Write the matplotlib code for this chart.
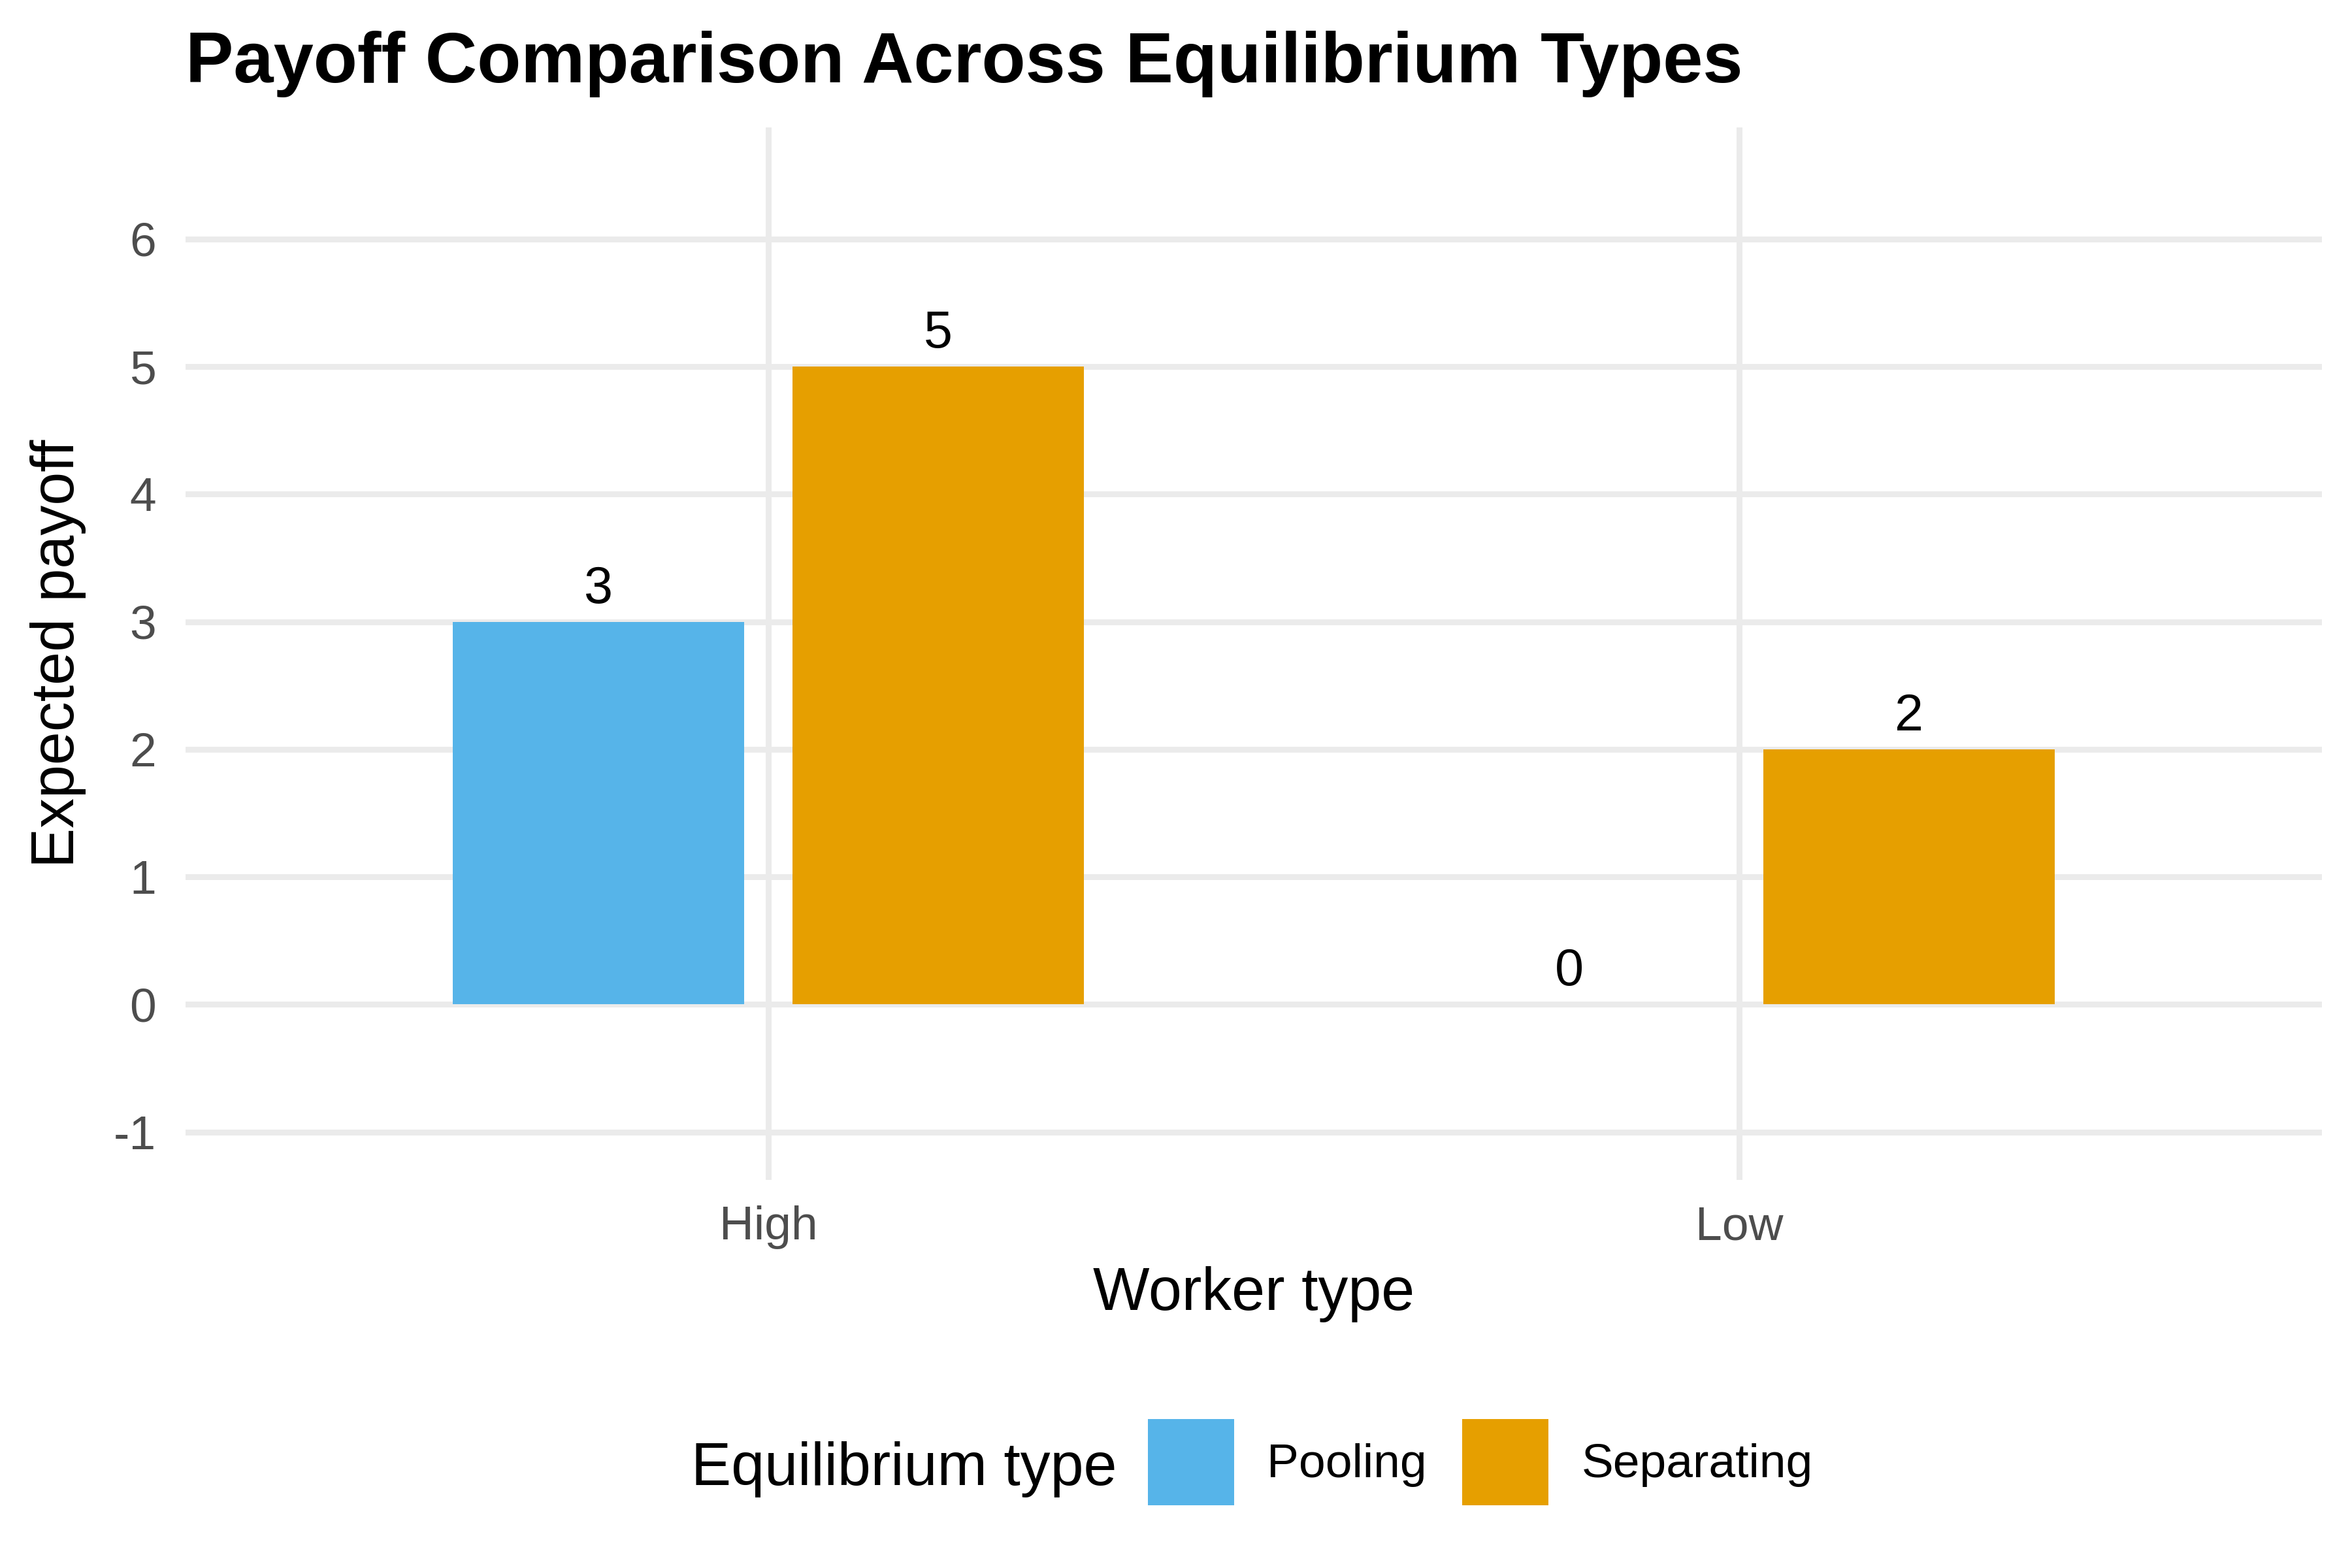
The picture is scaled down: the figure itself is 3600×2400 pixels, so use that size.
import matplotlib
matplotlib.use("Agg")
import matplotlib.pyplot as plt
from matplotlib.patches import Patch
import numpy as np

plt.rcParams['font.family'] = ['Liberation Sans', 'DejaVu Sans']

# ---- data ----
worker_types = ["High", "Low"]
equilibrium_types = ["Pooling", "Separating"]
pooling_payoff = [3, 0]
separating_payoff = [5, 2]
y_ticks = [-1, 0, 1, 2, 3, 4, 5, 6]
colors = {"Pooling": "#56B4E9", "Separating": "#E69F00"}

title = "Payoff Comparison Across Equilibrium Types"
x_label = "Worker type"
y_label = "Expected payoff"
legend_title = "Equilibrium type"

# ---- figure ----
fig = plt.figure(figsize=(12, 8), dpi=300)
W, H = 3600, 2400
left, right, top, bottom = 284, 3554, 195, 1806
ax = fig.add_axes([left / W, 1 - bottom / H, (right - left) / W, (bottom - top) / H])

x = np.arange(len(worker_types))
bar_w = 0.3
offset = 0.175
series = {"Pooling": pooling_payoff, "Separating": separating_payoff}
for k, name in enumerate(equilibrium_types):
    vals = series[name]
    xs = x + (-offset if k == 0 else offset)
    ax.bar(xs, vals, width=bar_w, color=colors[name], zorder=2, linewidth=0)
    for xi, v in zip(xs, vals):
        ax.annotate(f"{v}", xy=(xi, v), xytext=(0, 7), textcoords="offset points",
                    ha="center", va="baseline", fontsize=19, color="black")

ax.set_xlim(-0.6, 1.6)
ax.set_ylim(-1.375, 6.875)
ax.set_xticks(x)
ax.set_xticklabels(worker_types)
ax.set_yticks(y_ticks)
ax.set_yticklabels([str(t) for t in y_ticks])

ax.set_axisbelow(True)
ax.grid(True, color="#EBEBEB", linewidth=2.15)
for s in ax.spines.values():
    s.set_visible(False)
ax.tick_params(axis="both", length=0, labelsize=17.6, labelcolor="#4D4D4D")
ax.tick_params(axis="x", pad=9.4)
ax.tick_params(axis="y", pad=10.8)

ax.set_xlabel(x_label, fontsize=22, color="black")
ax.set_ylabel(y_label, fontsize=22, color="black")
ax.xaxis.set_label_coords(0.5, -(1938 - bottom) / (bottom - top))
ax.yaxis.set_label_coords(-(left - 132) / (right - left), 0.5)

fig.text(left / W, 1 - 126 / H, title, fontsize=26.4, fontweight="bold",
         ha="left", va="baseline", color="black")

# legend
handles = [Patch(facecolor=colors[n], edgecolor="none", label=n) for n in equilibrium_types]
fig.legend(handles=handles, loc="center left", bbox_to_anchor=(1757 / W, 1 - 2238 / H),
           ncol=2, frameon=False, fontsize=17.6, handlelength=1.8, handleheight=2.39,
           handletextpad=0.68, columnspacing=0.75, borderpad=0, borderaxespad=0)
fig.text(1058 / W, 1 - 2273 / H, legend_title, fontsize=22, ha="left", va="baseline",
         color="black")

fig.savefig("out.png", dpi=300, facecolor="white")
